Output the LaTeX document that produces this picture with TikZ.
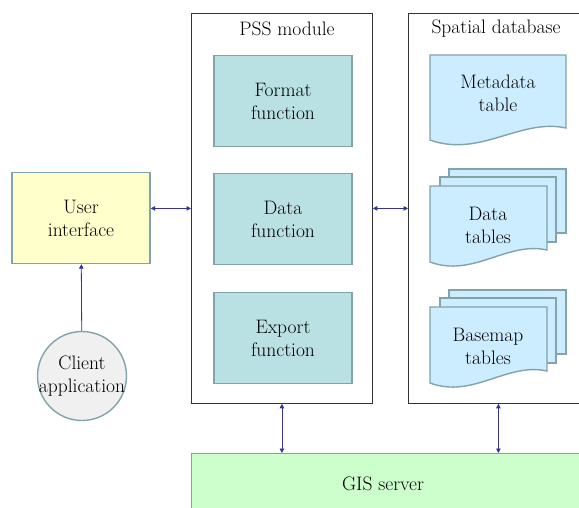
\documentclass[tikz,border=0pt]{standalone}
\usepackage{fontspec}
\usetikzlibrary{arrows.meta, positioning}
\definecolor{funcfill}{HTML}{B9E0E2}
\definecolor{boxline}{HTML}{82A3A8}
\definecolor{uifill}{HTML}{FFFFCC}
\definecolor{clientfill}{HTML}{F0F0F0}
\definecolor{docfill}{HTML}{CCECFF}
\definecolor{gisfill}{HTML}{CCFFCC}
\definecolor{linkblue}{HTML}{333399}

\begin{document}
\begin{tikzpicture}[
    x=1pt, y=-1pt,
    font=\rmfamily\fontsize{19.5}{23}\selectfont,
    every node/.style={inner sep=2pt, align=center},
    module/.style={draw=black!80, line width=0.8pt, anchor=north west, minimum height=390pt},
    func/.style={draw=boxline, fill=funcfill, line width=1.4pt, minimum width=138pt, minimum height=91pt},
    ui/.style={draw=boxline, fill=uifill, line width=1.4pt, minimum width=138pt, minimum height=91pt},
    client/.style={circle, draw=boxline, fill=clientfill, line width=1.4pt, minimum size=89pt, inner sep=0pt},
    doc/.style={draw=boxline, fill=docfill, line width=1.4pt},
    server/.style={draw=boxline, fill=gisfill, line width=1.4pt, anchor=north west, minimum width=420pt, minimum height=80pt},
    link/.style={{Triangle[length=4.5pt, width=4.5pt]}-{Triangle[length=4.5pt, width=4.5pt]}, line width=0.8pt, draw=linkblue},
    uplink/.style={-{Triangle[length=4.5pt, width=4.5pt]}, line width=0.8pt, draw=linkblue}
  ]
  \clip (0,0) rectangle (579,507);

  % Containers
  \node[module, minimum width=181pt] (pss) at (191,13) {};
  \node (psslabel) at (287,29) {PSS module};
  \node[module, minimum width=180pt] (sdb) at (408,13) {};
  \node (sdblabel) at (496,29) {Spatial database};

  % PSS functions
  \node[func] (format) at (283,101) {Format\\function};
  \node[func] (data) at (283,219) {Data\\function};
  \node[func] (export) at (283,338) {Export\\function};

  % Client side
  \node[ui] (ui) at (81,218) {User\\interface};
  \node[client] (client) at (82,376) {\makebox[0pt]{Client}\\\makebox[0pt]{application}};

  % Spatial database documents
  \draw[doc] (430,55) -- (566,55) -- (566,128) .. controls (520,118) and (480,158) .. (430,140) -- cycle;
  \node (meta) at (498,93) {Metadata\\table};

  \draw[doc] (449,169) rectangle (566,233);
  \draw[doc] (440,177) rectangle (556,242);
  \draw[doc] (430,186) -- (547,186) -- (547,250) .. controls (507,241) and (473,278) .. (430,262) -- cycle;
  \node (tables) at (488,225) {Data\\tables};

  \draw[doc] (449,290) rectangle (566,354);
  \draw[doc] (440,298) rectangle (556,363);
  \draw[doc] (430,307) -- (547,307) -- (547,371) .. controls (507,362) and (473,399) .. (430,383) -- cycle;
  \node (basemap) at (488,346) {Basemap\\tables};

  % Server
  \node[server] (gis) at (191,453) {};
  \node (gislabel) at (383,484) {GIS server};

  % Arrows
  \draw[uplink] (client) -- (ui);
  \draw[link] (ui.east |- pss.west) -- (pss.west);
  \draw[link] (pss.east) -- (sdb.west);
  \draw[link] (pss.south) -- (pss.south |- gis.north);
  \draw[link] (sdb.south) -- (sdb.south |- gis.north);

\end{tikzpicture}
\end{document}
